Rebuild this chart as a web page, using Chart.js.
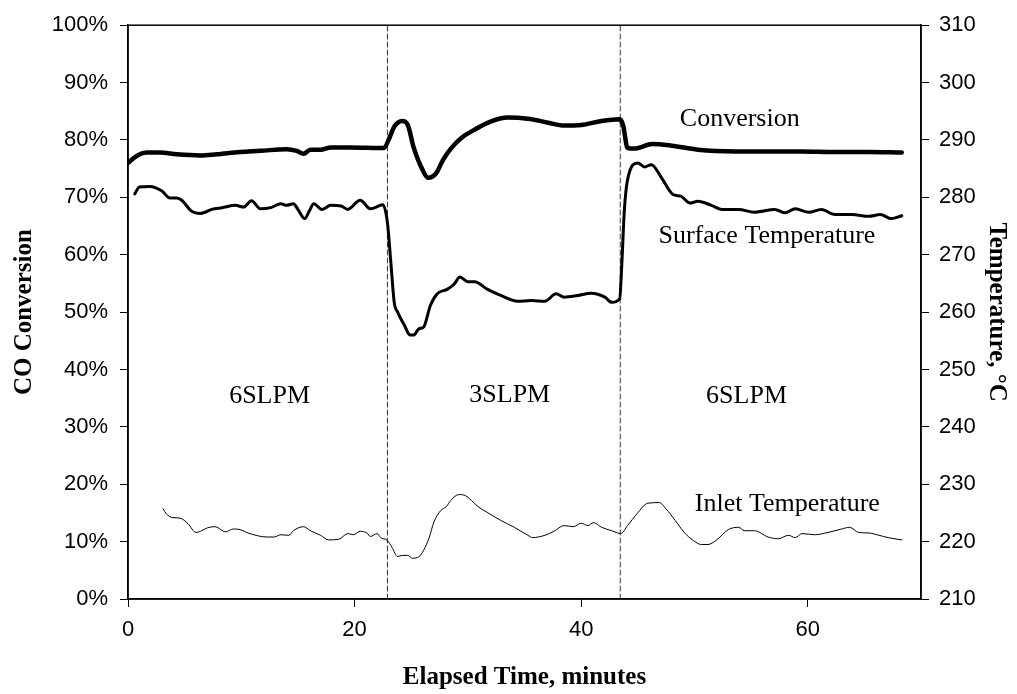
<!DOCTYPE html>
<html lang="en">
<head>
    <meta charset="UTF-8">
    <title>CO Conversion and Temperature vs Elapsed Time</title>
    <script src="https://cdn.jsdelivr.net/npm/chart.js@4.4.1/dist/chart.umd.min.js"></script>
    <style>
        body {
            margin: 0;
            padding: 0;
            background: #ffffff;
        }
        .chart-wrap {
            position: relative;
            width: 1017px;
            height: 694px;
        }
    </style>
</head>
<body>
    <div class="chart-wrap">
        <canvas id="chart"></canvas>
    </div>

    <script>
        // elapsed time (min) / CO conversion (%)
        const convTime = [0, 0.3, 0.9, 1.65, 2.8, 4.3, 6.4, 7.8, 9.9, 11.7, 14.0, 14.9, 15.5, 16.1, 17.0, 17.9, 19.6, 22.6,
            23.0, 23.5, 24.2, 24.7, 25.2, 26.0, 26.5, 27.2, 27.8, 28.5, 29.4, 30.6, 32.0, 33.5, 35.3, 37.1, 38.5, 40.0, 41.8,
            43.4, 43.7, 44.1, 44.7, 46.3, 48.0, 50.3, 53.6, 56.5, 59.5, 62.4, 65.4, 68.3];
        const convValue = [76.0, 76.5, 77.4, 77.8, 77.8, 77.5, 77.3, 77.5, 77.9, 78.1, 78.4, 78.1, 77.6, 78.3, 78.3, 78.7, 78.7, 78.6,
            80.0, 82.3, 83.3, 82.6, 78.8, 74.8, 73.4, 74.2, 76.5, 78.5, 80.3, 81.8, 83.2, 83.9, 83.7, 83.0, 82.5, 82.6, 83.3,
            83.6, 82.6, 78.6, 78.5, 79.3, 79.0, 78.3, 78.0, 78.0, 78.0, 77.9, 77.9, 77.8];

        // surface temperature (°C)
        const surfTime = [0.6, 1.0, 1.95, 2.4, 3.0, 3.7, 4.3, 4.75, 5.6, 6.4, 6.8, 7.4, 8.3, 9.5, 10.2, 10.9, 11.7, 12.6, 13.5,
            14.0, 14.6, 15.0, 15.6, 16.0, 16.4, 17.1, 17.9, 18.8, 19.4, 20.5, 21.4, 22.5, 22.9, 23.2, 23.5, 23.8, 24.4, 24.9,
            25.2, 25.7, 26.1, 26.7, 27.3, 28.2, 28.8, 29.3, 30.0, 30.6, 31.7, 32.9, 34.4, 35.6, 36.8, 37.8, 38.5, 39.7, 40.9,
            42.1, 42.7, 43.4, 43.6, 43.8, 44.1, 45.0, 45.6, 46.2, 47.1, 48.1, 48.8, 49.6, 50.3, 51.5, 52.4, 53.9, 55.3, 57.1,
            58.0, 58.9, 60.1, 61.2, 62.4, 63.9, 65.4, 66.4, 67.4, 68.3];
        const surfValue = [280.6, 281.8, 281.9, 281.7, 281.1, 279.9, 279.9, 279.5, 277.6, 277.2, 277.4, 277.9, 278.2, 278.6, 278.3,
            279.4, 278.0, 278.2, 278.9, 278.6, 278.9, 277.9, 276.3, 277.6, 278.9, 277.9, 278.6, 278.5, 277.9, 279.5, 278.0,
            278.7, 275.6, 268.7, 261.7, 260.0, 257.7, 256.0, 256.0, 257.1, 257.4, 261.2, 263.2, 264.0, 264.9, 266.1, 265.3,
            265.3, 264.0, 262.9, 261.9, 262.0, 261.9, 263.2, 262.6, 262.9, 263.3, 262.6, 261.7, 262.3, 268.7, 277.3, 283.1,
            286.0, 285.3, 285.7, 283.4, 280.5, 280.2, 279.0, 279.3, 278.6, 277.9, 277.9, 277.4, 277.9, 277.3, 278.0, 277.4,
            277.9, 277.0, 277.0, 276.7, 277.0, 276.3, 276.8];

        // inlet temperature (°C)
        const inletTime = [3.1, 3.4, 3.9, 4.6, 5.3, 6.0, 6.4, 7.0, 7.7, 8.6, 9.3, 9.9, 10.6, 12.3, 12.9, 13.5, 14.2, 14.6, 15.5,
            16.1, 17.0, 17.7, 18.6, 19.4, 19.9, 20.5, 21.1, 21.4, 22.0, 22.3, 22.9, 23.3, 23.8, 24.2, 24.7, 25.1, 25.7, 26.1,
            26.6, 27.0, 27.6, 28.1, 28.5, 29.2, 29.8, 30.3, 30.9, 31.7, 32.9, 34.1, 35.3, 35.7, 36.8, 37.6, 38.5, 39.3, 40.0,
            40.6, 41.1, 41.8, 42.7, 43.5, 44.1, 44.9, 45.9, 46.9, 47.5, 48.3, 49.1, 49.9, 50.6, 51.2, 51.9, 53.0, 53.9, 54.4,
            55.3, 56.5, 57.4, 58.3, 58.9, 59.5, 60.6, 61.8, 63.0, 63.7, 64.5, 65.4, 66.3, 67.1, 68.3];
        const inletValue = [225.7, 224.8, 224.2, 224.1, 223.1, 221.6, 221.8, 222.4, 222.6, 221.7, 222.2, 222.1, 221.5, 220.8, 220.8,
            221.2, 221.1, 221.9, 222.6, 221.9, 221.1, 220.3, 220.4, 221.4, 221.2, 221.8, 221.5, 220.9, 221.4, 220.7, 220.2,
            219.0, 217.4, 217.6, 217.6, 217.1, 217.4, 218.5, 220.8, 223.4, 225.4, 226.1, 227.2, 228.2, 228.0, 227.2, 226.1,
            225.1, 223.7, 222.5, 221.1, 220.7, 221.1, 221.8, 222.8, 222.6, 223.2, 222.8, 223.3, 222.5, 221.9, 221.4, 222.8,
            224.8, 226.7, 226.8, 225.7, 223.7, 221.6, 220.2, 219.5, 219.5, 220.2, 222.1, 222.5, 221.9, 221.9, 220.8, 220.5,
            221.1, 220.7, 221.4, 221.2, 221.6, 222.2, 222.5, 221.6, 221.5, 221.1, 220.7, 220.3];

        // flow rate change times (min)
        const flowSwitches = [22.9, 43.45];

        // axis ticks
        const xTicks = [0, 20, 40, 60];
        const convTicks = [0, 10, 20, 30, 40, 50, 60, 70, 80, 90, 100];
        const tempTicks = [210, 220, 230, 240, 250, 260, 270, 280, 290, 300, 310];

        // text labels inside the plot: [text, time, conversion %]
        const notes = [
            ['Conversion', 54.0, 83.7],
            ['Surface Temperature', 56.4, 63.3],
            ['Inlet Temperature', 58.2, 16.6],
            ['6SLPM', 12.5, 35.3],
            ['3SLPM', 33.7, 35.6],
            ['6SLPM', 54.6, 35.3]
        ];

        const SANS = "'Liberation Sans', Arial, sans-serif";
        const SERIF = "'Liberation Serif', 'Times New Roman', serif";

        function pairs(xs, ys) {
            return xs.map((x, i) => ({ x: x, y: ys[i] }));
        }

        const datasets = [
            {
                label: 'Conversion',
                data: pairs(convTime, convValue),
                yAxisID: 'y',
                borderColor: '#000',
                borderWidth: 4.5,
                cubicInterpolationMode: 'monotone'
            },
            {
                label: 'Surface Temperature',
                data: pairs(surfTime, surfValue),
                yAxisID: 'y2',
                borderColor: '#000',
                borderWidth: 3,
                cubicInterpolationMode: 'monotone'
            },
            {
                label: 'Inlet Temperature',
                data: pairs(inletTime, inletValue),
                yAxisID: 'y2',
                borderColor: '#000',
                borderWidth: 1,
                cubicInterpolationMode: 'monotone'
            }
        ];

        flowSwitches.forEach(t => {
            datasets.push({
                label: 'switch',
                data: [{ x: t, y: 0 }, { x: t, y: 100 }],
                yAxisID: 'y',
                borderColor: '#333',
                borderWidth: 1,
                borderDash: [5, 3]
            });
        });

        // frame round the plot area plus the in-plot text
        const framePlugin = {
            id: 'frame',
            afterDraw(chart) {
                const { ctx, chartArea: a, scales } = chart;
                ctx.save();
                ctx.strokeStyle = '#000';
                ctx.lineWidth = 1.5;
                ctx.strokeRect(a.left, a.top, a.right - a.left, a.bottom - a.top);

                ctx.fillStyle = '#000';
                ctx.font = '26px ' + SERIF;
                ctx.textAlign = 'center';
                ctx.textBaseline = 'middle';
                notes.forEach(n => {
                    ctx.fillText(n[0], scales.x.getPixelForValue(n[1]), scales.y.getPixelForValue(n[2]));
                });
                ctx.restore();
            }
        };

        function fixedTicks(list) {
            return function (scale) {
                scale.ticks = list.map(v => ({ value: v }));
            };
        }

        new Chart(document.getElementById('chart'), {
            type: 'line',
            data: { datasets: datasets },
            options: {
                responsive: true,
                maintainAspectRatio: false,
                animation: false,
                layout: { padding: { top: 21, left: 0, right: 0, bottom: 0 } },
                elements: {
                    point: { radius: 0 },
                    line: { borderJoinStyle: 'round', borderCapStyle: 'round' }
                },
                plugins: {
                    legend: { display: false },
                    tooltip: { enabled: false }
                },
                scales: {
                    x: {
                        type: 'linear',
                        min: 0,
                        max: 70,
                        afterBuildTicks: fixedTicks(xTicks),
                        afterFit(s) { s.height = 95; },
                        grid: { drawOnChartArea: false, tickLength: 8, color: '#000' },
                        border: { color: '#000', width: 1.5 },
                        ticks: { color: '#000', padding: 10, maxRotation: 0, font: { family: SANS, size: 22 } },
                        title: {
                            display: true,
                            text: 'Elapsed Time, minutes',
                            color: '#000',
                            padding: { top: 0, bottom: 1 },
                            font: { family: SERIF, size: 25, weight: 'bold' }
                        }
                    },
                    y: {
                        position: 'left',
                        min: 0,
                        max: 100,
                        afterBuildTicks: fixedTicks(convTicks),
                        afterFit(s) { s.width = 128; },
                        grid: { drawOnChartArea: false, tickLength: 8, color: '#000' },
                        border: { color: '#000', width: 1.5 },
                        ticks: {
                            color: '#000',
                            padding: 12,
                            font: { family: SANS, size: 22 },
                            callback: v => v + '%'
                        },
                        title: {
                            display: true,
                            text: 'CO Conversion',
                            color: '#000',
                            padding: { top: 10, bottom: 0 },
                            font: { family: SERIF, size: 25, weight: 'bold' }
                        }
                    },
                    y2: {
                        position: 'right',
                        min: 210,
                        max: 310,
                        afterBuildTicks: fixedTicks(tempTicks),
                        afterFit(s) { s.width = 96; },
                        grid: { drawOnChartArea: false, tickLength: 8, color: '#000' },
                        border: { color: '#000', width: 1.5 },
                        ticks: { color: '#000', padding: 10, font: { family: SANS, size: 22 } },
                        title: {
                            display: true,
                            text: 'Temperature, °C',
                            color: '#000',
                            padding: { top: 6, bottom: 0 },
                            font: { family: SERIF, size: 25, weight: 'bold' }
                        }
                    }
                }
            },
            plugins: [framePlugin]
        });
    </script>
</body>
</html>
